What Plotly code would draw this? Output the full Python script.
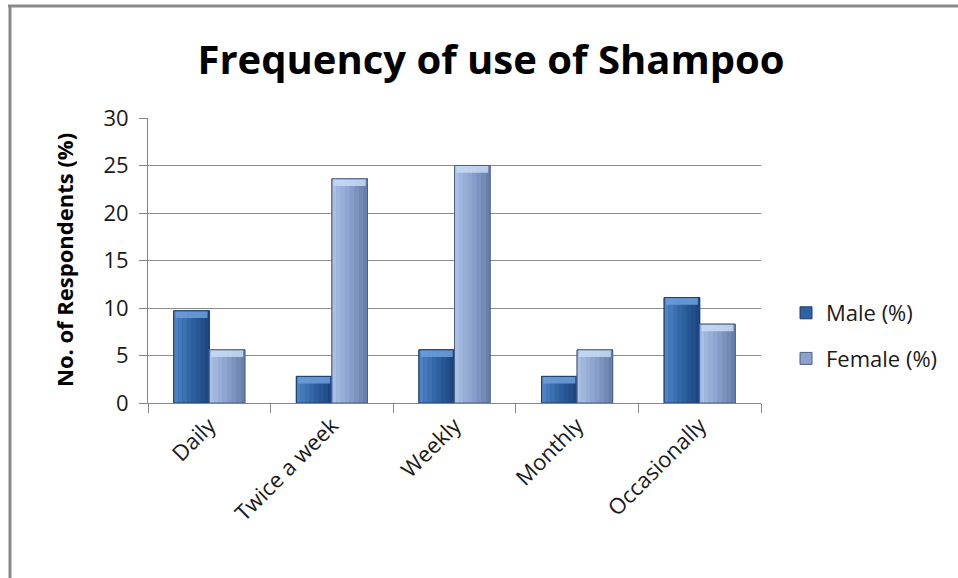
import plotly.graph_objects as go

# Survey results: share of respondents by how often they use shampoo
categories = ["Daily", "Twice a week", "Weekly", "Monthly", "Occasionally"]
male_pct = [9.7, 2.8, 5.6, 2.8, 11.1]
female_pct = [5.6, 23.6, 25.0, 5.6, 8.3]
y_ticks = [0, 5, 10, 15, 20, 25, 30]

FONT = "Open Sans"
BAR_W = 0.29          # bar width in category units
N_STRIPS = 8          # strips used to fake a horizontal gradient
CAP = 0.75            # height of the light bevel at the top of each bar


def lerp(c1, c2, t):
    a = [int(c1[i:i + 2], 16) for i in (1, 3, 5)]
    b = [int(c2[i:i + 2], 16) for i in (1, 3, 5)]
    return "#" + "".join(f"{round(a[k] + (b[k] - a[k]) * t):02x}" for k in range(3))


series = [
    dict(name="Male (%)", values=male_pct, offset=-BAR_W,
         light="#4f82c4", mid="#2f62a3", dark="#1e4782",
         cap="#6f9fdc", edge="#1c3e6e"),
    dict(name="Female (%)", values=female_pct, offset=0.0,
         light="#a9bfe4", mid="#8aa2cd", dark="#6a80aa",
         cap="#c8daf4", edge="#4f6085"),
]

fig = go.Figure()

for s in series:
    # base bar (also provides the legend swatch)
    fig.add_trace(go.Bar(
        x=categories, y=s["values"], name=s["name"], legendgroup=s["name"],
        width=BAR_W, offset=s["offset"],
        marker=dict(color=s["mid"], line=dict(color=s["edge"], width=1)),
        hoverinfo="skip",
    ))
    # gradient strips, light on the left to dark on the right
    sw = BAR_W / N_STRIPS
    for i in range(N_STRIPS):
        t = i / (N_STRIPS - 1)
        col = lerp(s["light"], s["mid"], t * 2) if t < 0.5 else lerp(s["mid"], s["dark"], (t - 0.5) * 2)
        fig.add_trace(go.Bar(
            x=categories, y=s["values"], width=sw, offset=s["offset"] + i * sw,
            marker=dict(color=col, line=dict(width=0)),
            showlegend=False, hoverinfo="skip", legendgroup=s["name"],
        ))
    # light bevel band at the top of each bar
    fig.add_trace(go.Bar(
        x=categories, y=[CAP] * len(categories),
        base=[v - CAP for v in s["values"]],
        width=BAR_W * 0.9, offset=s["offset"] + BAR_W * 0.05,
        marker=dict(color=s["cap"], line=dict(width=0), opacity=0.85),
        showlegend=False, hoverinfo="skip", legendgroup=s["name"],
    ))
    # outline on top
    fig.add_trace(go.Bar(
        x=categories, y=s["values"], width=BAR_W, offset=s["offset"],
        marker=dict(color="rgba(0,0,0,0)", line=dict(color=s["edge"], width=1)),
        showlegend=False, hoverinfo="skip", legendgroup=s["name"],
    ))

# plot area in pixels: x 148..761, y 118..403 of a 958x578 page
L, R, T, B = 148, 761, 118, 403
W, H = 958, 578


def px_x(p):
    return (p - L) / (R - L)


def px_y(p):
    return (B - p) / (B - T)


fig.update_layout(
    width=W, height=H,
    margin=dict(l=L, r=W - R, t=T, b=H - B, pad=0),
    barmode="overlay",
    paper_bgcolor="white", plot_bgcolor="white",
    font=dict(family=FONT, color="#1a1a1a"),
    title=dict(text="<b>Frequency of use of Shampoo</b>",
               font=dict(family=FONT, size=40, color="#000000"),
               x=491 / W, xanchor="center", xref="container",
               y=1 - 60 / H, yanchor="middle", yref="container"),
    legend=dict(x=px_x(786), y=px_y(336), xanchor="left", yanchor="middle",
                font=dict(family=FONT, size=22, color="#1a1a1a"),
                tracegroupgap=14, traceorder="grouped",
                bgcolor="rgba(0,0,0,0)"),
    xaxis=dict(
        type="category", range=[-0.5, 4.5],
        showline=True, linecolor="#868686", linewidth=1,
        ticks="outside", ticklen=9, tickcolor="#868686", tickson="boundaries",
        tickangle=-45, tickfont=dict(family=FONT, size=22, color="#1a1a1a"),
        showgrid=False,
    ),
    yaxis=dict(
        range=[0, 30], tickvals=y_ticks,
        showline=True, linecolor="#868686", linewidth=1,
        ticks="outside", ticklen=8, tickcolor="#868686",
        ticklabelstandoff=6,
        tickfont=dict(family=FONT, size=22, color="#1a1a1a"),
        showgrid=True, gridcolor="#8c8c8c", gridwidth=1,
        zeroline=False,
    ),
    annotations=[dict(
        text="<b>No. of Respondents (%)</b>", textangle=-90,
        x=px_x(64), y=px_y(260), xref="paper", yref="paper",
        xanchor="center", yanchor="middle", showarrow=False,
        font=dict(family=FONT, size=22, color="#000000"),
    )],
    shapes=[
        # chart frame: top and left edges
        dict(type="line", xref="paper", yref="paper",
             x0=px_x(8), x1=px_x(W + 5), y0=px_y(6), y1=px_y(6),
             line=dict(color="#8a8a8a", width=3)),
        dict(type="line", xref="paper", yref="paper",
             x0=px_x(10), x1=px_x(10), y0=px_y(5), y1=px_y(H + 5),
             line=dict(color="#8a8a8a", width=3)),
    ],
)

fig.write_html("out.html")
